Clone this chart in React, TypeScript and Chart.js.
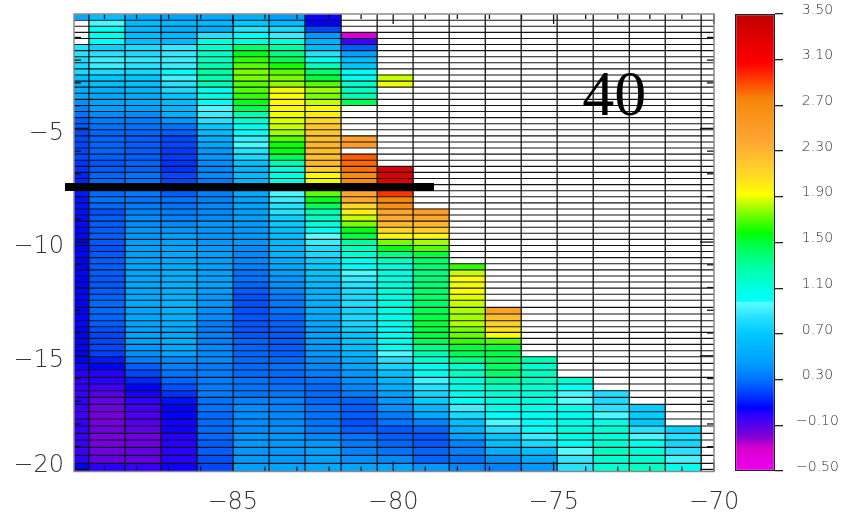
import React, { useEffect, useRef } from "react";
import { Chart, registerables } from "chart.js";

Chart.register(...registerables);

const _ = null;

const colCenters = [-90.05, -88.92, -87.8, -86.68, -85.55, -84.43, -83.31, -82.19, -81.06, -79.94, -78.82, -77.69, -76.57, -75.45, -74.33, -73.2, -72.08, -70.96, -69.84];

const rowEdges = [
  0.026, -0.242, -0.51, -0.777, -1.045, -1.313, -1.581, -1.849, -2.116, -2.384,
  -2.652, -2.92, -3.188, -3.455, -3.723, -3.991, -4.259, -4.527, -4.794, -5.062,
  -5.33, -5.598, -5.866, -6.133, -6.401, -6.669, -6.937, -7.205, -7.472, -7.74,
  -8.008, -8.276, -8.544, -8.811, -9.079, -9.347, -9.615, -9.883, -10.15, -10.418,
  -10.686, -10.954, -11.222, -11.489, -11.757, -12.025, -12.293, -12.561, -12.872, -13.166,
  -13.461, -13.725, -13.971, -14.235, -14.499, -14.78, -15.044, -15.334, -15.629, -15.95,
  -16.245, -16.539, -16.829, -17.137, -17.463, -17.784, -18.091, -18.413, -18.707, -19.028,
  -19.38, -19.732, -20.09,
];

const col0 = [0.5, _, _, _, _, 0.85, 0.85, 0.8, 0.8, 0.8, 0.65, 0.6, 0.55, 0.5, 0.4, 0.35, 0.3, 0.25, 0.25, 0.2, 0.2, 0.2, 0.2, 0.2, 0.15, 0.15,
  0.12, 0.12, 0.1, 0.1, 0.08, 0.08, 0.08, 0.07, 0.07, 0.06, 0.06, 0.05, 0.05, 0.06, 0.05, 0.05, 0.06, 0.05, 0.05, 0.05, 0.06, 0.05, 0.05, 0.05, 0.06, 0.05, 0.05,
  0.05, 0.05, 0.05, 0.05, 0.03, 0, -0.02, -0.02, -0.03, -0.02, -0.03, -0.05, -0.03, -0.02, -0.03, -0.03, -0.03, 0, 0.05];
const col1 = [0.65, 0.95, 1.05, 1.05, 1, 0.75, 0.85, 0.9, 0.9, 0.8, 0.7, 0.65, 0.55, 0.5, 0.48, 0.45, 0.38, 0.33, 0.3, 0.27, 0.27, 0.27, 0.27, 0.25, 0.23, 0.25,
  0.27, 0.28, 0.28, 0.28, 0.3, 0.28, 0.22, 0.25, 0.25, 0.25, 0.25, 0.24, 0.22, 0.24, 0.25, 0.25, 0.25, 0.24, 0.24, 0.25, 0.26, 0.28, 0.28, 0.27, 0.25, 0.22, 0.2,
  0.2, 0.2, 0.18, 0.1, 0.05, 0, 0, -0.05, -0.1, -0.13, -0.15, -0.17, -0.17, -0.15, -0.17, -0.17, -0.15, -0.13, 0];
const col2 = [0.5, 0.62, 0.6, 0.62, 0.62, 0.8, 0.8, 0.88, 0.85, 0.78, 0.7, 0.65, 0.6, 0.55, 0.5, 0.45, 0.38, 0.33, 0.3, 0.27, 0.25, 0.25, 0.25, 0.25, 0.27, 0.27,
  0.3, 0.3, 0.3, 0.32, 0.3, 0.33, 0.35, 0.38, 0.38, 0.42, 0.42, 0.45, 0.45, 0.45, 0.48, 0.48, 0.48, 0.5, 0.5, 0.5, 0.5, 0.5, 0.48, 0.48, 0.48, 0.47, 0.47,
  0.45, 0.42, 0.4, 0.33, 0.25, 0.2, 0.12, 0.05, 0.02, -0.02, -0.05, -0.08, -0.1, -0.12, -0.15, -0.15, -0.13, -0.13, -0.03];
const col3 = [0.47, 0.6, 0.55, 0.6, 0.6, 0.88, 0.88, 0.9, 0.9, 1, 0.92, 0.85, 0.8, 0.7, 0.62, 0.6, 0.55, 0.42, 0.3, 0.25, 0.2, 0.2, 0.17, 0.17, 0.15, 0.15,
  0.2, 0.2, 0.2, 0.25, 0.3, 0.3, 0.33, 0.35, 0.38, 0.42, 0.45, 0.47, 0.48, 0.5, 0.5, 0.52, 0.55, 0.55, 0.55, 0.55, 0.55, 0.57, 0.57, 0.55, 0.53, 0.5, 0.5,
  0.55, 0.5, 0.47, 0.38, 0.35, 0.3, 0.27, 0.22, 0.15, 0.08, 0.05, 0.05, 0.03, 0.03, 0, 0, 0, 0, 0.03];
const col4 = [0.5, 0.6, 0.55, 0.85, 1.1, 1.15, 1.2, 1.2, 1.25, 1.3, 1.25, 1.25, 1.05, 1.1, 1, 0.95, 0.9, 0.85, 0.7, 0.62, 0.55, 0.5, 0.42, 0.42, 0.38, 0.37,
  0.38, 0.33, 0.33, 0.35, 0.35, 0.37, 0.37, 0.38, 0.42, 0.42, 0.42, 0.42, 0.43, 0.45, 0.45, 0.45, 0.45, 0.47, 0.47, 0.45, 0.42, 0.42, 0.4, 0.38, 0.33, 0.33, 0.35,
  0.35, 0.37, 0.37, 0.38, 0.33, 0.33, 0.33, 0.33, 0.33, 0.3, 0.3, 0.28, 0.28, 0.28, 0.28, 0.25, 0.25, 0.22, 0.2];
const col5 = [0.55, 0.7, 0.85, 1.05, 1.1, 1.4, 1.55, 1.65, 1.7, 1.75, 1.75, 1.7, 1.7, 1.65, 1.55, 1.45, 1.25, 1.15, 1.05, 1, 0.9, 0.95, 0.85, 0.8, 0.65, 0.6,
  0.62, 0.6, 0.52, 0.5, 0.47, 0.47, 0.45, 0.45, 0.43, 0.43, 0.43, 0.42, 0.38, 0.37, 0.37, 0.35, 0.3, 0.3, 0.27, 0.25, 0.22, 0.22, 0.22, 0.23, 0.23, 0.23, 0.24,
  0.27, 0.27, 0.27, 0.28, 0.28, 0.28, 0.3, 0.3, 0.3, 0.35, 0.38, 0.38, 0.38, 0.37, 0.42, 0.42, 0.42, 0.43, 0.45];
const col6 = [0.45, 0.62, 0.8, 0.9, 1.1, 1.3, 1.35, 1.45, 1.6, 1.7, 1.75, 1.78, 1.9, 1.92, 1.95, 1.95, 1.9, 1.88, 1.85, 1.8, 1.7, 1.6, 1.55, 1.45, 1.25, 1.1,
  1.1, 1.08, 1.02, 0.95, 0.9, 0.85, 0.85, 0.75, 0.72, 0.65, 0.65, 0.62, 0.58, 0.58, 0.55, 0.5, 0.47, 0.42, 0.4, 0.37, 0.33, 0.32, 0.3, 0.28, 0.27, 0.25, 0.25,
  0.25, 0.25, 0.25, 0.28, 0.3, 0.28, 0.28, 0.3, 0.32, 0.35, 0.35, 0.37, 0.37, 0.4, 0.42, 0.42, 0.43, 0.43, 0.47];
const col7 = [0.03, 0.05, 0.2, 0.42, 0.55, 0.6, 0.85, 1.05, 1.2, 1.4, 1.5, 1.7, 1.8, 1.75, 1.85, 1.93, 2, 2.1, 2.2, 2.2, 2.25, 2.3, 2.25, 2.25, 2.3, 2.15,
  1.95, 1.9, 1.85, 1.72, 1.55, 1.45, 1.25, 1.2, 1.1, 1.05, 0.98, 0.9, 0.82, 0.8, 0.75, 0.72, 0.68, 0.65, 0.6, 0.58, 0.58, 0.55, 0.55, 0.52, 0.5, 0.47, 0.47,
  0.45, 0.43, 0.42, 0.4, 0.37, 0.33, 0.3, 0.28, 0.28, 0.28, 0.3, 0.3, 0.3, 0.33, 0.37, 0.42, 0.45, 0.47, 0.5];
const col8 = [_, _, _, -0.33, -0.05, 0.25, 0.45, 0.62, 0.7, 0.99, 1.05, 1.15, 1.2, 1.25, 1.45, _, _, _, _, _, 2.45, 2.5, _, 2.85, 2.82, 2.8,
  2.7, 2.72, 2.5, 2.42, 2.38, 2.1, 2, 1.85, 1.75, 1.55, 1.48, 1.3, 1.2, 1.15, 1.05, 1, 0.96, 0.9, 0.86, 0.82, 0.8, 0.82, 0.78, 0.8, 0.78, 0.75, 0.7,
  0.7, 0.65, 0.58, 0.53, 0.5, 0.42, 0.4, 0.37, 0.33, 0.27, 0.25, 0.25, 0.22, 0.25, 0.3, 0.32, 0.35, 0.4, 0.47];
const col9 = [_, _, _, _, _, _, _, _, _, _, 1.85, 1.9, _, _, _, _, _, _, _, _, _, _, _, _, _, 3.3,
  3.3, 3.25, 3.1, 2.95, 2.75, 2.65, 2.4, 2.35, 2.3, 2.1, 1.95, 1.75, 1.55, 1.35, 1.2, 1.12, 1.08, 1.1, 1.12, 1.12, 1.1, 1.1, 1.1, 1.08, 1.05, 1.03, 1.03,
  1.05, 1.03, 0.96, 0.85, 0.78, 0.65, 0.6, 0.55, 0.45, 0.42, 0.4, 0.33, 0.3, 0.24, 0.25, 0.27, 0.3, 0.37, 0.47];
const col10 = [_, _, _, _, _, _, _, _, _, _, _, _, _, _, _, _, _, _, _, _, _, _, _, _, _, _, _, _, _, _, _, _,
  2.45, 2.4, 2.3, 2.15, 1.95, 1.8, 1.7, 1.5, 1.4,
  1.4, 1.35, 1.38, 1.38, 1.4, 1.4, 1.42, 1.45, 1.48, 1.5, 1.5, 1.5, 1.45, 1.35, 1.25, 1.15, 1.05, 1.03, 0.92, 0.85, 0.78, 0.72, 0.6, 0.5, 0.35, 0.27, 0.23, 0.24, 0.27, 0.27, 0.42];
const col11 = [_, _, _, _, _, _, _, _, _, _, _, _, _, _, _, _, _, _, _, _, _, _, _, _, _, _, _, _, _, _, _, _, _, _, _, _, _, _, _, _, _,
  1.65, 1.85, 1.92, 1.9, 1.92, 1.88, 1.85, 1.82, 1.8, 1.83, 1.75, 1.72, 1.65, 1.5, 1.45, 1.35, 1.15, 1.2, 1.1, 1.1, 1.05, 1.03, 0.9, 0.8, 0.65, 0.58, 0.48, 0.35, 0.35, 0.3, 0.37];
const col12 = [_, _, _, _, _, _, _, _, _, _, _, _, _, _, _, _, _, _, _, _, _, _, _, _, _, _, _, _, _, _, _, _, _, _, _, _, _, _, _, _, _, _, _, _, _, _, _, _,
  2.45, 2.25, 2.15, 2.05, 1.93, 1.7, 1.5, 1.48, 1.45, 1.42, 1.4, 1.3, 1.2, 1.15, 1.1, 1.05, 1, 0.95, 0.85, 0.7, 0.65, 0.55, 0.4, 0.35];
const col13 = [_, _, _, _, _, _, _, _, _, _, _, _, _, _, _, _, _, _, _, _, _, _, _, _, _, _, _, _, _, _, _, _, _, _, _, _, _, _, _, _, _, _, _, _, _, _, _, _, _, _, _, _, _, _, _, _,
  1.25, 1.15, 1.2, 1.2, 1.15, 1.12, 1.1, 1.05, 1.03, 1, 1.02, 0.9, 0.8, 0.65, 0.52, 0.42];
const col14 = [_, _, _, _, _, _, _, _, _, _, _, _, _, _, _, _, _, _, _, _, _, _, _, _, _, _, _, _, _, _, _, _, _, _, _, _, _, _, _, _, _, _, _, _, _, _, _, _, _, _, _, _, _, _, _, _, _, _, _,
  1.15, 1.03, 0.95, 0.98, 1.05, 1.03, 1.05, 1.1, 1.1, 1.03, 0.97, 0.88, 0.85];
const col15 = [_, _, _, _, _, _, _, _, _, _, _, _, _, _, _, _, _, _, _, _, _, _, _, _, _, _, _, _, _, _, _, _, _, _, _, _, _, _, _, _, _, _, _, _, _, _, _, _, _, _, _, _, _, _, _, _, _, _, _, _, _,
  0.82, 0.8, 0.85, 0.95, 1.08, 1.15, 1.12, 1.15, 1.2, 1.15, 1.15];
const col16 = [_, _, _, _, _, _, _, _, _, _, _, _, _, _, _, _, _, _, _, _, _, _, _, _, _, _, _, _, _, _, _, _, _, _, _, _, _, _, _, _, _, _, _, _, _, _, _, _, _, _, _, _, _, _, _, _, _, _, _, _, _, _, _,
  0.72, 0.72, 0.7, 0.85, 0.95, 1.05, 1.12, 1.15, 1.2];
const col17 = [_, _, _, _, _, _, _, _, _, _, _, _, _, _, _, _, _, _, _, _, _, _, _, _, _, _, _, _, _, _, _, _, _, _, _, _, _, _, _, _, _, _, _, _, _, _, _, _, _, _, _, _, _, _, _, _, _, _, _, _, _, _, _, _, _, _,
  0.75, 0.85, 0.78, 0.85, 0.93, 1.05];
const col18 = [_, _, _, _, _, _, _, _, _, _, _, _, _, _, _, _, _, _, _, _, _, _, _, _, _, _, _, _, _, _, _, _, _, _, _, _, _, _, _, _, _, _, _, _, _, _, _, _, _, _, _, _, _, _, _, _, _, _, _, _, _, _, _, _, _, _, _, _, _, _, _, _];
const columns = [col0, col1, col2, col3, col4, col5, col6, col7, col8, col9, col10, col11, col12, col13, col14, col15, col16, col17, col18];

const colorStops: [number, number, number, number][] = [
  [-0.5, 240, 0, 240], [-0.3, 215, 0, 205], [-0.2, 130, 0, 210], [-0.1, 85, 0, 235], [0, 40, 0, 255], [0.05, 0, 0, 255],
  [0.15, 0, 50, 255], [0.3, 0, 115, 255], [0.45, 0, 160, 255], [0.7, 0, 200, 255], [0.85, 40, 225, 255], [0.98, 90, 255, 255],
  [0.985, 0, 255, 255], [1.1, 0, 255, 225], [1.3, 0, 255, 160], [1.5, 0, 255, 60], [1.58, 0, 255, 0], [1.75, 120, 255, 0],
  [1.92, 255, 255, 0], [2.1, 255, 215, 40], [2.4, 255, 165, 50], [2.75, 245, 135, 10], [2.88, 255, 80, 0], [3.07, 255, 0, 0], [3.5, 190, 0, 0],
];

const xLabelTicks = [-85, -80, -75, -70];
const yLabelTicks = [-5, -10, -15, -19.63];
const xMinorTicks = [-89, -88, -87, -86, -84, -83, -82, -81, -79, -78, -77, -76, -74, -73, -72, -71];
const xMajorTicks = [-85, -80, -75, -70];
const yMinorTicks = [-1, -2, -3, -4, -6, -7, -8, -9, -11, -12, -13, -14, -16, -17, -18, -19];
const yMajorTicks = [-5, -10, -15, -20];
const sectionLine = [{ x: -90.23, y: -7.58 }, { x: -78.73, y: -7.58 }];
const panelLabel = { text: "40", x: -73.11, y: -4.415 };
const colorbarRange = [-0.5, 3.5];

function colorFor(v: number | null): string {
  if (v === null || v === undefined) return "#ffffff";
  for (let i = 1; i < colorStops.length; i++) {
    const a = colorStops[i - 1];
    const b = colorStops[i];
    if (v <= b[0]) {
      const t = Math.max(0, (v - a[0]) / (b[0] - a[0]));
      return `rgb(${Math.round(a[1] + (b[1] - a[1]) * t)},${Math.round(a[2] + (b[2] - a[2]) * t)},${Math.round(a[3] + (b[3] - a[3]) * t)})`;
    }
  }
  return "rgb(190,0,0)";
}

const minus = (s: string) => s.replace("-", "\u2212");

const axisFont = { family: "'DejaVu Sans'", size: 24, weight: "200" as any };

const overlay = {
  id: "overlay",
  afterDatasetsDraw(chart: any) {
    const { ctx, chartArea: a, scales } = chart;
    const x = scales.x;
    const y = scales.y;
    ctx.save();
    const seg = (x0: number, y0: number, x1: number, y1: number) => {
      ctx.beginPath();
      ctx.moveTo(x0, y0);
      ctx.lineTo(x1, y1);
      ctx.stroke();
    };

    ctx.strokeStyle = "#141414";
    ctx.lineWidth = 1.1;
    rowEdges.slice(1, -1).forEach((v) => {
      const p = y.getPixelForValue(v);
      seg(a.left, p, a.right, p);
    });
    ctx.lineWidth = 1.3;
    colCenters.slice(1).forEach((v, i) => {
      const p = x.getPixelForValue((v + colCenters[i]) / 2);
      seg(p, a.top, p, a.bottom);
    });

    ctx.fillStyle = "#000";
    ctx.font = '64px "Liberation Serif"';
    ctx.textAlign = "center";
    ctx.textBaseline = "alphabetic";
    ctx.fillText(panelLabel.text, x.getPixelForValue(panelLabel.x), y.getPixelForValue(panelLabel.y));

    ctx.strokeStyle = "#111";
    ctx.lineWidth = 1.3;
    const drawX = (v: number, len: number) => {
      const p = x.getPixelForValue(v);
      seg(p, a.top, p, a.top + len);
      seg(p, a.bottom, p, a.bottom - len);
    };
    const drawY = (v: number, len: number) => {
      const p = y.getPixelForValue(v);
      seg(a.left, p, a.left + len, p);
      seg(a.right, p, a.right - len, p);
    };
    xMinorTicks.forEach((v) => drawX(v, 5));
    xMajorTicks.forEach((v) => drawX(v, 10));
    yMinorTicks.forEach((v) => drawY(v, 7));
    yMajorTicks.forEach((v) => drawY(v, 14));

    ctx.strokeStyle = "#8a8a8a";
    ctx.lineWidth = 1.5;
    ctx.strokeRect(a.left, a.top, a.right - a.left, a.bottom - a.top);

    const s = sectionLine;
    ctx.strokeStyle = "#000";
    ctx.lineWidth = 8;
    seg(x.getPixelForValue(s[0].x), y.getPixelForValue(s[0].y), x.getPixelForValue(s[1].x), y.getPixelForValue(s[1].y));
    ctx.restore();
  },
};

export default function App() {
  const mainRef = useRef<HTMLCanvasElement>(null);
  const barRef = useRef<HTMLCanvasElement>(null);

  useEffect(() => {
    const cellSets: any[] = columns.map((values, c) => ({
      type: "bar",
      label: `lon ${colCenters[c]}`,
      data: values.map((_v, r) => ({ x: colCenters[c], y: [rowEdges[r + 1], rowEdges[r]] })),
      backgroundColor: values.map((v) => colorFor(v)),
      borderWidth: 0,
      borderSkipped: false,
      inflateAmount: 0.4,
      grouped: false,
      barPercentage: 1,
      categoryPercentage: 1,
      order: 2,
    }));
    const main = new Chart(mainRef.current!, {
      type: "bar",
      data: {
        datasets: [
          ...cellSets,
          {
            type: "line",
            label: "section",
            data: sectionLine,
            borderColor: "#000",
            borderWidth: 8,
            pointRadius: 0,
            clip: false,
            order: 1,
          },
        ],
      },
      options: {
        animation: false,
        responsive: false,
        devicePixelRatio: 1,
        layout: { padding: { top: 14, right: 130, left: 0, bottom: 0 } },
        plugins: { legend: { display: false }, tooltip: { enabled: false } },
        scales: {
          x: {
            type: "linear",
            min: -89.95,
            max: -70,
            offset: false,
            grid: { display: false, drawTicks: false },
            border: { display: false },
            afterBuildTicks: (s: any) => {
              s.ticks = xLabelTicks.map((value) => ({ value }));
            },
            afterFit: (s: any) => {
              s.height = 45.5;
              s.paddingLeft = 0;
              s.paddingRight = 0;
            },
            ticks: {
              autoSkip: false,
              maxRotation: 0,
              minRotation: 0,
              padding: 17,
              color: "#333",
              font: axisFont,
              callback: (v: any) => minus(String(v)),
            },
          },
          y: {
            type: "linear",
            min: -20.09,
            max: 0.03,
            grid: { display: false, drawTicks: false },
            border: { display: false },
            afterBuildTicks: (s: any) => {
              s.ticks = yLabelTicks.map((value) => ({ value }));
            },
            afterFit: (s: any) => {
              s.width = 74;
              s.paddingTop = 0;
              s.paddingBottom = 0;
            },
            ticks: {
              autoSkip: false,
              padding: 10,
              labelOffset: 5,
              color: "#333",
              font: axisFont,
              callback: (v: any) => minus(String(Math.round(v / 5) * 5)),
            },
          },
        },
      },
      plugins: [overlay],
    } as any);

    const bar = new Chart(barRef.current!, {
      type: "bar",
      data: {
        labels: ["scale"],
        datasets: [
          {
            label: "colour scale",
            data: [colorbarRange],
            backgroundColor: (c: any) => {
              const area = c.chart.chartArea;
              if (!area) return "#000";
              const range = colorbarRange[1] - colorbarRange[0];
              const g = c.chart.ctx.createLinearGradient(0, area.bottom, 0, area.top);
              colorStops.forEach((s) =>
                g.addColorStop((s[0] - colorbarRange[0]) / range, `rgb(${s[1]},${s[2]},${s[3]})`)
              );
              return g;
            },
            borderColor: "#222",
            borderWidth: 1.3,
            borderSkipped: false,
            inflateAmount: 0,
            barPercentage: 1,
            categoryPercentage: 1,
          },
        ],
      },
      options: {
        animation: false,
        responsive: false,
        devicePixelRatio: 1,
        layout: { padding: { top: 14, left: 10, right: 0, bottom: 46 } },
        plugins: { legend: { display: false }, tooltip: { enabled: false } },
        scales: {
          x: { display: false },
          y: {
            position: "right",
            min: colorbarRange[0],
            max: colorbarRange[1],
            afterFit: (s: any) => {
              s.width = 69;
              s.paddingTop = 0;
              s.paddingBottom = 0;
            },
            grid: { display: true, drawOnChartArea: false, drawTicks: true, tickLength: 8, color: "#222", lineWidth: 1.3 },
            border: { display: false },
            ticks: {
              stepSize: 0.4,
              autoSkip: false,
              padding: 13,
              crossAlign: "center",
              labelOffset: -4,
              color: "#333",
              font: { family: "'DejaVu Sans'", size: 14, weight: "200" as any },
              callback: (v: any) => minus(Number(v).toFixed(2)),
            },
          },
        },
      },
    } as any);

    return () => {
      main.destroy();
      bar.destroy();
    };
  }, []);

  return (
    <div style={{ position: "absolute", left: 0, top: 0, width: 844, height: 517, background: "#fff", overflow: "hidden" }}>
      <canvas ref={mainRef} width={844} height={517} style={{ position: "absolute", left: 0, top: 0 }} />
      <canvas ref={barRef} width={119} height={517} style={{ position: "absolute", left: 725, top: 0 }} />
    </div>
  );
}
